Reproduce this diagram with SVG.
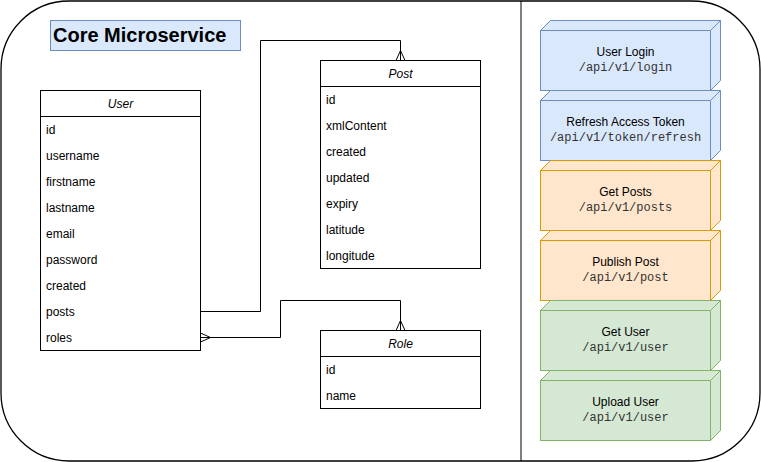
<svg xmlns="http://www.w3.org/2000/svg" width="761" height="462" viewBox="0 0 761 462">
<style>
.t{font-family:"Liberation Sans",Arial,sans-serif;font-size:12px;fill:#000}
.h{font-family:"Liberation Sans",Arial,sans-serif;font-size:12px;font-style:italic;fill:#000;text-anchor:middle}
.m{font-family:"Liberation Mono","Courier New",monospace;font-size:12px;fill:#333;text-anchor:middle}
.c{font-family:"Liberation Sans",Arial,sans-serif;font-size:12px;fill:#000;text-anchor:middle}
.tbl{fill:#fff;stroke:#000;stroke-width:1}
.ln{fill:none;stroke:#000;stroke-width:1}
.blue{fill:#dae8fc;stroke:#6c8ebf;stroke-width:1}
.orange{fill:#ffe6cc;stroke:#d79b00;stroke-width:1}
.green{fill:#d5e8d4;stroke:#82b366;stroke-width:1}
</style>
<defs>
<g id="cube">
<rect x="0" y="10" width="170" height="60"/>
<path d="M0 10 L10 0 L180 0 L170 10 Z"/>
<path d="M170 10 L180 0 L180 60 L170 70 Z"/>
</g>
</defs>
<rect x="1" y="1" width="759" height="460" rx="68" ry="68" fill="#fff" stroke="#000" stroke-width="1.3"/>
<line x1="521" y1="1" x2="521" y2="461" stroke="#000" stroke-width="1"/>

<g id="title">
<rect x="50.5" y="20.5" width="190" height="30" class="blue"/>
<text x="53" y="42" font-family="'Liberation Sans',Arial,sans-serif" font-size="20" font-weight="bold">Core Microservice</text>
</g>

<g id="connectors">
<path class="ln" d="M200.5 311.5 H260.5 V40.5 H400.5 V60.5"/>
<path class="ln" d="M396 60.5 L400.5 50.5 L405 60.5"/>
<path class="ln" d="M200.5 337.5 H280.5 V300.5 H400.5 V330.5"/>
<path class="ln" d="M396 330.5 L400.5 320.5 L405 330.5"/>
<path class="ln" d="M200.5 333 L210.5 337.5 L200.5 342"/>
</g>

<g id="user">
<rect x="40.5" y="90.5" width="160" height="260" class="tbl"/>
<line x1="40.5" y1="116.5" x2="200.5" y2="116.5" stroke="#000"/>
<text class="h" x="120.5" y="108">User</text>
<text class="t" x="46" y="134">id</text>
<text class="t" x="46" y="160">username</text>
<text class="t" x="46" y="186">firstname</text>
<text class="t" x="46" y="212">lastname</text>
<text class="t" x="46" y="238">email</text>
<text class="t" x="46" y="264">password</text>
<text class="t" x="46" y="290">created</text>
<text class="t" x="46" y="316">posts</text>
<text class="t" x="46" y="342">roles</text>
</g>

<g id="post">
<rect x="320.5" y="60.5" width="160" height="208" class="tbl"/>
<line x1="320.5" y1="86.5" x2="480.5" y2="86.5" stroke="#000"/>
<text class="h" x="400.5" y="78">Post</text>
<text class="t" x="326" y="104">id</text>
<text class="t" x="326" y="130">xmlContent</text>
<text class="t" x="326" y="156">created</text>
<text class="t" x="326" y="182">updated</text>
<text class="t" x="326" y="208">expiry</text>
<text class="t" x="326" y="234">latitude</text>
<text class="t" x="326" y="260">longitude</text>
</g>

<g id="role">
<rect x="320.5" y="330.5" width="160" height="78" class="tbl"/>
<line x1="320.5" y1="356.5" x2="480.5" y2="356.5" stroke="#000"/>
<text class="h" x="400.5" y="348">Role</text>
<text class="t" x="326" y="374">id</text>
<text class="t" x="326" y="400">name</text>
</g>

<g id="login">
<use href="#cube" x="540.5" y="20.5" class="blue"/>
<text class="c" x="625.5" y="56">User Login</text>
<text class="m" x="625.5" y="71">/api/v1/login</text>
</g>
<g id="refresh">
<use href="#cube" x="540.5" y="90.5" class="blue"/>
<text class="c" x="625.5" y="126">Refresh Access Token</text>
<text class="m" x="625.5" y="141">/api/v1/token/refresh</text>
</g>
<g id="getposts">
<use href="#cube" x="540.5" y="160.5" class="orange"/>
<text class="c" x="625.5" y="196">Get Posts</text>
<text class="m" x="625.5" y="211">/api/v1/posts</text>
</g>
<g id="publish">
<use href="#cube" x="540.5" y="230.5" class="orange"/>
<text class="c" x="625.5" y="266">Publish Post</text>
<text class="m" x="625.5" y="281">/api/v1/post</text>
</g>
<g id="getuser">
<use href="#cube" x="540.5" y="300.5" class="green"/>
<text class="c" x="625.5" y="336">Get User</text>
<text class="m" x="625.5" y="351">/api/v1/user</text>
</g>
<g id="uploaduser">
<use href="#cube" x="540.5" y="370.5" class="green"/>
<text class="c" x="625.5" y="406">Upload User</text>
<text class="m" x="625.5" y="421">/api/v1/user</text>
</g>
</svg>
